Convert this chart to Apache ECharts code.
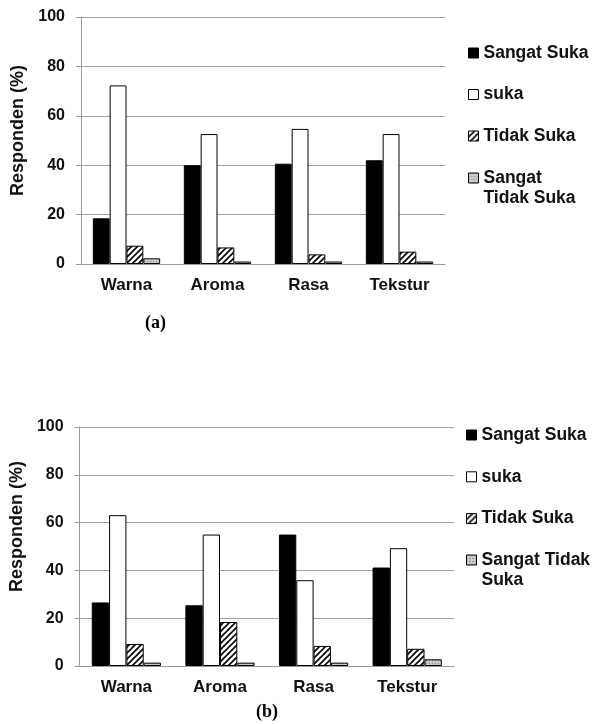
<!DOCTYPE html>
<html>
<head>
<meta charset="utf-8">
<script src="https://cdn.jsdelivr.net/npm/echarts@6/dist/echarts.min.js"></script>
<style>html,body{margin:0;padding:0;background:#fff}#c{width:592px;height:724px}</style>
</head>
<body>
<div id="c"></div>
<script>
// ---- data ----
var categories = ['Warna', 'Aroma', 'Rasa', 'Tekstur'];
var seriesNames = ['Sangat Suka', 'suka', 'Tidak Suka', 'Sangat Tidak Suka'];
// chart (a)
var aSangatSuka = [18.5, 40, 40.6, 42];
var aSuka = [72.3, 52.6, 54.7, 52.6];
var aTidakSuka = [7.4, 6.7, 3.9, 5];
var aSangatTidakSuka = [2.3, 1, 1, 1];
// chart (b)
var bSangatSuka = [26.6, 25.4, 55, 41.2];
var bSuka = [63.1, 55, 35.9, 49.3];
var bTidakSuka = [9.2, 18.4, 8.4, 7.2];
var bSangatTidakSuka = [1.4, 1.4, 1.4, 2.8];
var yMin = 0, yMax = 100, yStep = 20;
var yName = 'Responden (%)';
var panelLabels = ['(a)', '(b)'];

// ---- patterns ----
function hatch() {
  var c = document.createElement('canvas'); c.width = 6; c.height = 6;
  var g = c.getContext('2d');
  g.fillStyle = '#fff'; g.fillRect(0, 0, 6, 6);
  g.strokeStyle = '#000'; g.lineWidth = 1.6;
  g.beginPath();
  g.moveTo(-1, 7); g.lineTo(7, -1);
  g.moveTo(-4, 4); g.lineTo(4, -4);
  g.moveTo(2, 10); g.lineTo(10, 2);
  g.stroke();
  return { image: c, repeat: 'repeat' };
}
function dots() {
  var c = document.createElement('canvas'); c.width = 3; c.height = 3;
  var g = c.getContext('2d');
  g.fillStyle = '#c8c8c8'; g.fillRect(0, 0, 3, 3);
  g.fillStyle = '#8a8a8a'; g.fillRect(0, 0, 1, 1);
  return { image: c, repeat: 'repeat' };
}
var fills = ['#000', '#fff', hatch(), dots()];

var font = 'Liberation Sans, Arial, sans-serif';
var txt = '#111';

function yAxis(gi, padLeft, gap) {
  return {
    gridIndex: gi, type: 'value', min: yMin, max: yMax, interval: yStep,
    name: yName, nameLocation: 'middle', nameGap: gap,
    nameTextStyle: { fontFamily: font, fontWeight: 'bold', fontSize: 18, color: txt, padding: [0, 0, 0, padLeft] },
    axisLine: { show: true, lineStyle: { color: '#9a9a9a', width: 1 } },
    axisTick: { show: true, length: 5, lineStyle: { color: '#9a9a9a' } },
    axisLabel: { margin: 16, fontFamily: font, fontWeight: 'bold', fontSize: 16, color: txt },
    splitLine: { lineStyle: { color: '#a0a0a0', width: 1 } }
  };
}
function xAxis(gi) {
  return {
    gridIndex: gi, type: 'category', data: categories,
    axisLine: { lineStyle: { color: '#9a9a9a' } },
    axisTick: { show: false },
    axisLabel: { margin: 13, fontFamily: font, fontWeight: 'bold', fontSize: 17, color: txt }
  };
}
function bars(gi, arrs) {
  return arrs.map(function (d, i) {
    return {
      name: seriesNames[i], type: 'bar', xAxisIndex: gi, yAxisIndex: gi, data: d,
      barGap: '0%', barCategoryGap: '26%',
      itemStyle: { color: fills[i], borderColor: '#000', borderWidth: 1 },
      emphasis: { disabled: true }, animation: false
    };
  });
}
function legends(left, top1, gap, topLast, lastLabel) {
  var ts = { fontFamily: font, fontWeight: 'bold', fontSize: 17.5, color: txt, lineHeight: 20 };
  return [
    { orient: 'vertical', left: left, top: top1, padding: 0, itemGap: gap, itemWidth: 10, itemHeight: 10,
      icon: 'rect', selectedMode: false, textStyle: ts, data: seriesNames.slice(0, 3),
      itemStyle: { borderColor: '#000', borderWidth: 1 } },
    { orient: 'vertical', left: left, top: topLast, padding: 0, itemWidth: 10, itemHeight: 10,
      icon: 'rect', selectedMode: false, itemStyle: { borderColor: '#000', borderWidth: 1 },
      textStyle: ts,
      formatter: function () { return ' \n' + lastLabel; },
      data: [seriesNames[3]] }
  ];
}

var chart = echarts.init(document.getElementById('c'), null, { renderer: 'canvas' });
chart.setOption({
  backgroundColor: '#fff',
  animation: false,
  title: [
    { text: panelLabels[0], left: 145, top: 314, padding: 0,
      textStyle: { fontFamily: 'Liberation Serif, Times New Roman, serif', fontWeight: 'bold', fontSize: 18, color: '#000' } },
    { text: panelLabels[1], left: 256, top: 703, padding: 0,
      textStyle: { fontFamily: 'Liberation Serif, Times New Roman, serif', fontWeight: 'bold', fontSize: 18, color: '#000' } }
  ],
  grid: [
    { left: 81, right: 147, top: 17, bottom: 460 },
    { left: 78, right: 138, top: 427, bottom: 58 }
  ],
  xAxis: [xAxis(0), xAxis(1)],
  yAxis: [yAxis(0, 20, 47), yAxis(1, 40, 51)],
  legend: legends(468, 43, 21.5, 148, 'Sangat\nTidak Suka')
    .concat(legends(466, 425, 21.8, 530, 'Sangat Tidak\nSuka')),
  series: bars(0, [aSangatSuka, aSuka, aTidakSuka, aSangatTidakSuka])
    .concat(bars(1, [bSangatSuka, bSuka, bTidakSuka, bSangatTidakSuka]))
});
</script>
</body>
</html>
